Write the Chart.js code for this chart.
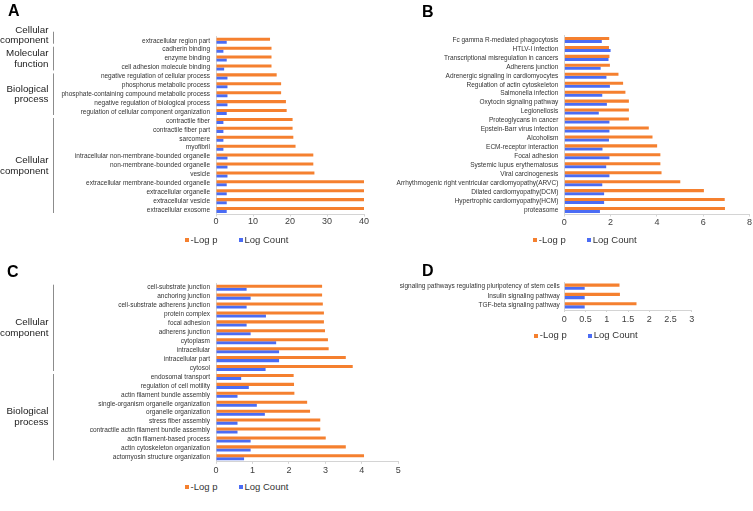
<!DOCTYPE html>
<html>
<head>
<meta charset="utf-8">
<title>Enrichment bars</title>
<script src="https://cdn.jsdelivr.net/npm/chart.js@4.4.0/dist/chart.umd.min.js"></script>
<style>
  body { margin: 0; background: #fff; font-family: "Liberation Sans", Arial, sans-serif; }
  #wrap { position: relative; width: 753px; height: 511px; overflow: hidden; }
  canvas { position: absolute; }
  .letter { position: absolute; font: bold 16px "Liberation Sans", Arial, sans-serif; line-height: 1; color: #000; }
  .lg-box { position: absolute; width: 4px; height: 4px; }
  .lg-text { position: absolute; font-size: 9.5px; line-height: 1; color: #333; white-space: nowrap; }
</style>
</head>
<body>
<div id="wrap">
  <canvas id="chartA" width="372" height="230" style="left:0px;top:0px"></canvas>
  <canvas id="chartB" width="373" height="230" style="left:380px;top:0px"></canvas>
  <canvas id="chartC" width="406" height="223" style="left:0px;top:255px"></canvas>
  <canvas id="chartD" width="320" height="71" style="left:380px;top:255px"></canvas>
  <div class="letter" style="left:8px;top:3px">A</div>
  <div class="letter" style="left:422px;top:4px">B</div>
  <div class="letter" style="left:7px;top:264px">C</div>
  <div class="letter" style="left:422px;top:263px">D</div>
</div>
<script>
// ---- data ----
const seriesNames = ['-Log p', 'Log Count'];

// A - GO terms
const aLabels = [
  'extracellular region part', 'cadherin binding', 'enzyme binding', 'cell adhesion molecule binding',
  'negative regulation of cellular process', 'phosphorus metabolic process',
  'phosphate-containing compound metabolic process', 'negative regulation of biological process',
  'regulation of cellular component organization', 'contractile fiber', 'contractile fiber part',
  'sarcomere', 'myofibril', 'intracellular non-membrane-bounded organelle', 'non-membrane-bounded organelle',
  'vesicle', 'extracellular membrane-bounded organelle', 'extracellular organelle',
  'extracellular vesicle', 'extracellular exosome'
];
const aLogP = [14.6, 15.0, 15.0, 15.0, 16.4, 17.6, 17.6, 18.9, 19.1, 20.7, 20.7, 20.9, 21.5, 26.3, 26.3, 26.6, 40, 40, 40, 40];
const aLogCount = [2.9, 2.0, 2.9, 2.2, 3.1, 3.1, 3.1, 3.1, 2.9, 2.0, 2.0, 2.0, 2.0, 3.1, 3.1, 3.1, 2.9, 2.9, 2.9, 2.9];
const aTicks = [0, 10, 20, 30, 40];
const aGroups = ['Cellular component', 'Molecular function', 'Biological process', 'Cellular component'];
const aGroupSizes = [1, 3, 5, 11];

// B - KEGG pathways
const bLabels = [
  'Fc gamma R-mediated phagocytosis', 'HTLV-I infection', 'Transcriptional misregulation in cancers',
  'Adherens junction', 'Adrenergic signaling in cardiomyocytes', 'Regulation of actin cytoskeleton',
  'Salmonella infection', 'Oxytocin signaling pathway', 'Legionellosis', 'Proteoglycans in cancer',
  'Epstein-Barr virus infection', 'Alcoholism', 'ECM-receptor interaction', 'Focal adhesion',
  'Systemic lupus erythematosus', 'Viral carcinogenesis',
  'Arrhythmogenic right ventricular cardiomyopathy(ARVC)', 'Dilated cardiomyopathy(DCM)',
  'Hypertrophic cardiomyopathy(HCM)', 'proteasome'
];
const bLogP = [1.94, 1.93, 1.95, 1.97, 2.34, 2.54, 2.64, 2.79, 2.79, 2.79, 3.65, 3.81, 4.01, 4.15, 4.15, 4.2, 5.01, 6.03, 6.93, 6.94];
const bLogCount = [1.62, 2.0, 1.91, 1.57, 1.82, 1.97, 1.64, 1.84, 1.49, 1.95, 1.95, 1.93, 1.65, 1.95, 1.81, 1.95, 1.64, 1.72, 1.72, 1.54];
const bTicks = [0, 2, 4, 6, 8];

// C - GO terms
const cLabels = [
  'cell-substrate junction', 'anchoring junction', 'cell-substrate adherens junction', 'protein complex',
  'focal adhesion', 'adherens junction', 'cytoplasm', 'intracellular', 'intracellular part', 'cytosol',
  'endosomal transport', 'regulation of cell motility', 'actin filament bundle assembly',
  'single-organism organelle organization', 'organelle organization', 'stress fiber assembly',
  'contractile actin filament bundle assembly', 'actin filament-based process',
  'actin cytoskeleton organization', 'actomyosin structure organization'
];
const cLogP = [2.91, 2.91, 2.93, 2.96, 2.96, 2.99, 3.07, 3.09, 3.56, 3.75, 2.13, 2.14, 2.15, 2.50, 2.58, 2.86, 2.86, 3.01, 3.56, 4.06];
const cLogCount = [0.84, 0.95, 0.84, 1.37, 0.84, 0.95, 1.65, 1.73, 1.73, 1.36, 0.69, 0.90, 0.59, 1.12, 1.34, 0.59, 0.59, 0.95, 0.95, 0.77];
const cTicks = [0, 1, 2, 3, 4, 5];
const cGroups = ['Cellular component', 'Biological process'];
const cGroupSizes = [10, 10];

// D - KEGG pathways
const dLabels = ['signaling pathways regulating pluripotency of stem cells', 'Insulin signaling pathway', 'TGF-beta signaling pathway'];
const dLogP = [1.30, 1.31, 1.70];
const dLogCount = [0.48, 0.48, 0.48];
const dTicks = [0, 0.5, 1, 1.5, 2, 2.5, 3];

const ORANGE = '#F5802F';
const BLUE = '#4B6CF4';

Chart.defaults.font.family = '"Liberation Sans", Arial, sans-serif';

// draws the grey brackets + group names left of the category labels
const groupBrackets = {
  id: 'groupBrackets',
  afterDraw(chart, args, opts) {
    if (!opts.names) return;
    const y = chart.scales.y;
    const ctx = chart.ctx;
    const step = y.getPixelForValue(1) - y.getPixelForValue(0);
    const x = Math.round(chart.chartArea.left - opts.offset) + 0.5;
    const lineH = 10.8;
    let start = 0;
    ctx.save();
    opts.names.forEach((name, i) => {
      const end = start + opts.sizes[i] - 1;
      let top = y.getPixelForValue(start) - step / 2 + 1.5;
      const bottom = y.getPixelForValue(end) + step / 2 - 1.5;
      const lines = name.split(' ');
      // centre of the text block
      let mid = (top + bottom) / 2;
      if (bottom - top < 12) {
        // band too short: bracket grows upward, text sits on its bottom
        top = bottom - 12;
        mid = bottom - 3 - (lines.length - 1) * lineH / 2;
      }
      ctx.strokeStyle = '#8c8c8c';
      ctx.lineWidth = 1;
      ctx.beginPath();
      ctx.moveTo(x, top);
      ctx.lineTo(x, bottom);
      ctx.stroke();
      ctx.fillStyle = '#222';
      ctx.font = '9.8px "Liberation Sans", Arial, sans-serif';
      ctx.textAlign = 'right';
      ctx.textBaseline = 'middle';
      lines.forEach((t, k) => ctx.fillText(t, x - 5, mid + (k - (lines.length - 1) / 2) * lineH));
      start = end + 1;
    });
    ctx.restore();
  }
};

const makeChart = (id, labels, logP, logCount, ticks, geo) => {
  return new Chart(document.getElementById(id), {
    type: 'bar',
    data: {
      labels: labels,
      datasets: [
        { label: seriesNames[0], data: logP, backgroundColor: ORANGE },
        { label: seriesNames[1], data: logCount, backgroundColor: BLUE }
      ]
    },
    options: {
      indexAxis: 'y',
      responsive: false,
      animation: false,
      devicePixelRatio: 1,
      datasets: { bar: { categoryPercentage: 0.68, barPercentage: 1.0 } },
      layout: { padding: geo.padding },
      plugins: {
        legend: { display: false },
        tooltip: { enabled: false },
        groupBrackets: geo.groups || {}
      },
      scales: {
        x: {
          min: ticks[0],
          max: ticks[ticks.length - 1],
          ticks: {
            stepSize: ticks[1] - ticks[0],
            autoSkip: false,
            padding: geo.tickPad,
            color: '#404040',
            font: { size: 9 },
            callback: (v) => String(v)
          },
          grid: { drawOnChartArea: false, tickLength: 2, color: '#d4d4d4' },
          border: { color: '#d4d4d4' },
          afterFit: (s) => { s.height = 14; }
        },
        y: {
          ticks: { autoSkip: false, padding: geo.labelPad, color: '#333', font: { size: 6.5 } },
          grid: { drawOnChartArea: false, drawTicks: false },
          border: { color: '#d4d4d4' },
          afterFit: (s) => { s.width = geo.axisWidth; }
        }
      }
    },
    plugins: [groupBrackets]
  });
};

makeChart('chartA', aLabels, aLogP, aLogCount, aTicks, {
  axisWidth: 216, labelPad: 6, tickPad: 0,
  padding: { left: 0, right: 8, top: 36.3, bottom: 1.5 },
  groups: { names: aGroups, sizes: aGroupSizes, offset: 163 }
});
makeChart('chartB', bLabels, bLogP, bLogCount, bTicks, {
  axisWidth: 184.3, labelPad: 6, tickPad: 1,
  padding: { left: 0, right: 3, top: 35.5, bottom: 1.5 }
});
makeChart('chartC', cLabels, cLogP, cLogCount, cTicks, {
  axisWidth: 216, labelPad: 6, tickPad: 1,
  padding: { left: 0, right: 7.7, top: 28.2, bottom: 2.2 },
  groups: { names: cGroups, sizes: cGroupSizes, offset: 163 }
});
makeChart('chartD', dLabels, dLogP, dLogCount, dTicks, {
  axisWidth: 184.3, labelPad: 4.5, tickPad: 2,
  padding: { left: 0, right: 8.3, top: 27, bottom: 2 }
});

// legends under each panel (orange marker x, centre y)
const addLegend = (x0, y0) => {
  const wrap = document.getElementById('wrap');
  [[x0, ORANGE, seriesNames[0]], [x0 + 54, BLUE, seriesNames[1]]].forEach(([x, col, txt]) => {
    const box = document.createElement('div');
    box.className = 'lg-box';
    box.style.left = x + 'px';
    box.style.top = (y0 - 2) + 'px';
    box.style.background = col;
    wrap.appendChild(box);
    const t = document.createElement('div');
    t.className = 'lg-text';
    t.style.left = (x + 5.5) + 'px';
    t.style.top = (y0 - 5.3) + 'px';
    t.textContent = txt;
    wrap.appendChild(t);
  });
};
addLegend(185, 240);
addLegend(533.3, 240);
addLegend(185, 487.3);
addLegend(534.3, 335.7);
</script>
</body>
</html>
